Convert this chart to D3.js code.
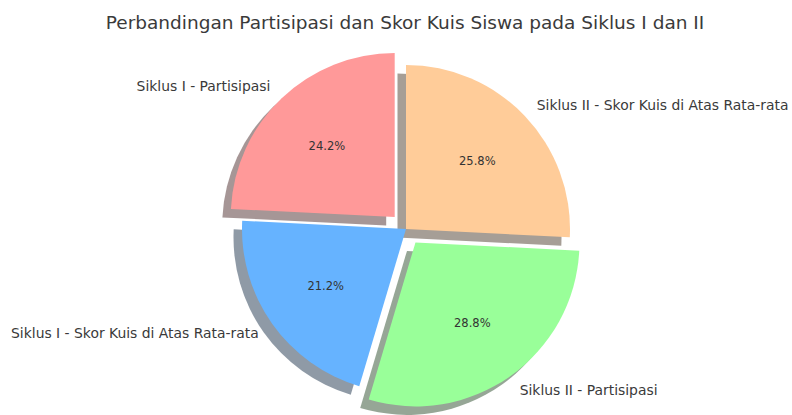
<!DOCTYPE html>
<html>
<head>
<meta charset="utf-8">
<script src="https://cdn.jsdelivr.net/npm/d3@7"></script>
<style>
  body { margin: 0; background: #fff; }
  svg { display: block; font-family: "DejaVu Sans", sans-serif; }
</style>
</head>
<body>
<div id="chart"></div>
<script>
// Pie: participation and quiz score, cycle I and II

const labels = [
    'Siklus I - Partisipasi',
    'Siklus I - Skor Kuis di Atas Rata-rata',
    'Siklus II - Partisipasi',
    'Siklus II - Skor Kuis di Atas Rata-rata'
];
const values = [24.2, 21.2, 28.8, 25.8];
const colors = ['#ff9999', '#66b3ff', '#99ff99', '#ffcc99'];
const explode = [0.1, 0, 0.1, 0];

const width = 792,
    height = 415;
const cx = 406, cy = 229, radius = 164;
const shadowDx = -8.5, shadowDy = 8.5;

const svg = d3.select('#chart')
    .append('svg')
    .attr('width', width)
    .attr('height', height);

svg.append('text')
    .attr('x', 405)
    .attr('y', 22)
    .attr('text-anchor', 'middle')
    .attr('dominant-baseline', 'central')
    .attr('fill', '#3a3a3a')
    .style('font-size', '18.5px')
    .text('Perbandingan Partisipasi dan Skor Kuis Siswa pada Siklus I dan II');

// counter-clockwise from 12 o'clock, like matplotlib startangle=90
const pie = d3.pie()
    .sort(null)
    .startAngle(0)
    .endAngle(-2 * Math.PI);

const arcs = pie(values).map((d, i) => {
    const mid = (d.startAngle + d.endAngle) / 2;
    const ux = Math.sin(mid), uy = -Math.cos(mid);
    return {
        ...d,
        i: i,
        ux: ux,
        uy: uy,
        ox: cx + explode[i] * radius * ux,  // exploded centre
        oy: cy + explode[i] * radius * uy
    };
});

const arc = d3.arc().innerRadius(0).outerRadius(radius);

function darker(c) {
    const rgb = d3.rgb(c);
    return d3.rgb(rgb.r * 0.3, rgb.g * 0.3, rgb.b * 0.3).toString();
}

// shadows under all wedges
svg.append('g')
    .selectAll('path')
    .data(arcs)
    .join('path')
    .attr('transform', d => `translate(${d.ox + shadowDx}, ${d.oy + shadowDy})`)
    .attr('d', arc)
    .attr('fill', d => darker(colors[d.i]))
    .attr('fill-opacity', 0.5);

svg.append('g')
    .selectAll('path')
    .data(arcs)
    .join('path')
    .attr('transform', d => `translate(${d.ox}, ${d.oy})`)
    .attr('d', arc)
    .attr('fill', d => colors[d.i]);

// percentage labels at 0.6 r
svg.append('g')
    .selectAll('text')
    .data(arcs)
    .join('text')
    .attr('x', d => d.ox + 0.6 * radius * d.ux)
    .attr('y', d => d.oy + 0.6 * radius * d.uy)
    .attr('text-anchor', 'middle')
    .attr('dominant-baseline', 'central')
    .attr('fill', '#333')
    .style('font-size', '11.5px')
    .text(d => d.value.toFixed(1) + '%');

// category labels at 1.1 r
svg.append('g')
    .selectAll('text')
    .data(arcs)
    .join('text')
    .attr('x', d => d.ox + 1.1 * radius * d.ux)
    .attr('y', d => d.oy + 1.1 * radius * d.uy)
    .attr('text-anchor', d => d.ux < 0 ? 'end' : 'start')
    .attr('dominant-baseline', 'central')
    .attr('fill', '#3a3a3a')
    .style('font-size', '13.9px')
    .text(d => labels[d.i]);
</script>
</body>
</html>
